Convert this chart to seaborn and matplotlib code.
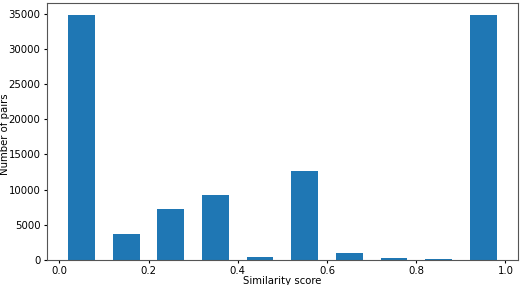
import numpy as np
import seaborn as sns
import matplotlib.pyplot as plt

# histogram bins of similarity score (0.0 - 1.0, step 0.1)
bin_edges = [0.0, 0.1, 0.2, 0.3, 0.4, 0.5, 0.6, 0.7, 0.8, 0.9, 1.0]
bin_centers = [0.05, 0.15, 0.25, 0.35, 0.45, 0.55, 0.65, 0.75, 0.85, 0.95]
pair_counts = [34750, 3730, 7200, 9250, 380, 12600, 1030, 240, 60, 34750]

fig = plt.figure(figsize=(5.2, 2.85), dpi=100)
ax = fig.add_axes([0.090, 0.088, 0.906, 0.901])

sns.histplot(x=bin_centers, weights=pair_counts, bins=bin_edges, shrink=0.6,
             color="#1f77b4", alpha=1, linewidth=0, ax=ax)

ax.set_xlabel("Similarity score", fontsize=7.3)
ax.set_ylabel("Number of pairs", fontsize=7.3)
ax.xaxis.set_label_coords(0.5, -0.064)
ax.yaxis.set_label_coords(-0.078, 0.49)
ax.set_xticks([0.0, 0.2, 0.4, 0.6, 0.8, 1.0])
ax.set_yticks(np.arange(0, 35001, 5000))
ax.tick_params(labelsize=7.3, length=2.5, pad=2)
for s in ax.spines.values():
    s.set_color("#555555")
    s.set_linewidth(0.8)

fig.savefig("out.png", dpi=100)
